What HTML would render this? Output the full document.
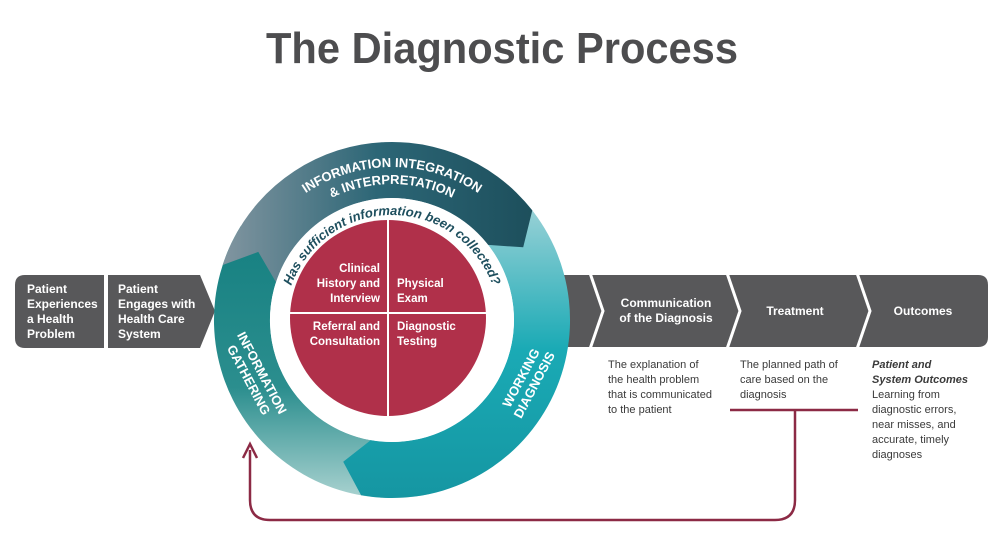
<!DOCTYPE html>
<html><head><meta charset="utf-8"><style>
body{margin:0;background:#fff;}
svg{display:block;font-family:"Liberation Sans",sans-serif;}
</style></head><body>
<svg id="s" width="1001" height="539" viewBox="0 0 1001 539" xmlns="http://www.w3.org/2000/svg">
<defs>
<linearGradient id="gTop" x1="0" y1="0" x2="1" y2="0"><stop offset="0" stop-color="#8195a0"/><stop offset="0.5" stop-color="#2c6676"/><stop offset="1" stop-color="#1d4f5c"/></linearGradient>
<linearGradient id="gWD" x1="0" y1="0" x2="0" y2="1"><stop offset="0" stop-color="#9fd3d8"/><stop offset="0.5" stop-color="#1aaab5"/><stop offset="1" stop-color="#1596a2"/></linearGradient>
<linearGradient id="gIG" x1="0" y1="0" x2="0" y2="1"><stop offset="0" stop-color="#147f80"/><stop offset="0.6" stop-color="#2b8e8e"/><stop offset="1" stop-color="#a9d2d0"/></linearGradient>
<path id="a1" d="M 237 322 A 155 155 0 0 1 547 322" fill="none"/>
<path id="a2" d="M 254 322 A 138 138 0 0 1 530 322" fill="none"/>
<path id="a3" d="M 285 322 A 107 107 0 0 1 499 322" fill="none"/>
</defs>
<text x="502" y="63" text-anchor="middle" font-size="44" font-weight="bold" fill="#4d4d4f" textLength="472" lengthAdjust="spacingAndGlyphs">The Diagnostic Process</text>

<path d="M560 275 H978 Q988 275 988 285 V337 Q988 347 978 347 H560 Z" fill="#58585a"/>
<g stroke="#fff" stroke-width="3" fill="none">
<polyline points="590,273 603,311 590,349"/>
<polyline points="727,273 740,311 727,349"/>
<polyline points="857,273 870,311 857,349"/>
</g>
<path d="M25 275 H104 V348 H25 Q15 348 15 338 V285 Q15 275 25 275 Z" fill="#58585a"/>
<path d="M108 275 H200 L215 311 L200 348 H108 Z" fill="#58585a"/>

<g fill="#fff" font-size="12" font-weight="bold">
<text x="27" y="293">Patient</text><text x="27" y="308">Experiences</text><text x="27" y="323">a Health</text><text x="27" y="338">Problem</text>
<text x="118" y="293">Patient</text><text x="118" y="308">Engages with</text><text x="118" y="323">Health Care</text><text x="118" y="338">System</text>
<text x="666" y="307" text-anchor="middle">Communication</text><text x="666" y="322" text-anchor="middle">of the Diagnosis</text>
<text x="795" y="315" text-anchor="middle">Treatment</text>
<text x="923" y="315" text-anchor="middle">Outcomes</text>
</g>
<g fill="#3a3a3a" font-size="11">
<text x="608" y="368">The explanation of</text><text x="608" y="383">the health problem</text><text x="608" y="398">that is communicated</text><text x="608" y="413">to the patient</text>
<text x="740" y="368">The planned path of</text><text x="740" y="383">care based on the</text><text x="740" y="398">diagnosis</text>
<text x="872" y="368" font-style="italic" font-weight="bold">Patient and</text><text x="872" y="383" font-style="italic" font-weight="bold">System Outcomes</text>
<text x="872" y="398">Learning from</text><text x="872" y="413">diagnostic errors,</text><text x="872" y="428">near misses, and</text><text x="872" y="443">accurate, timely</text><text x="872" y="458">diagnoses</text>
</g>
<path d="M730 410 H858 M795 410 V500 Q795 520 775 520 H270 Q250 520 250 500 V450" fill="none" stroke="#8c2a45" stroke-width="2.5"/>
<path d="M243 458 L250 444 L257 458" fill="none" stroke="#8c2a45" stroke-width="2.5"/>

<g id="ring"></g>
<circle cx="392" cy="320" r="122" fill="#fff"/>
<circle cx="388" cy="318" r="98" fill="#b0304a"/>
<line x1="388" y1="220" x2="388" y2="416" stroke="#fff" stroke-width="2"/>
<line x1="290" y1="313" x2="486" y2="313" stroke="#fff" stroke-width="2"/>
<g fill="#fff" font-size="11.5" font-weight="bold">
<text x="380" y="272" text-anchor="end">Clinical</text><text x="380" y="287" text-anchor="end">History and</text><text x="380" y="302" text-anchor="end">Interview</text>
<text x="397" y="287">Physical</text><text x="397" y="302">Exam</text>
<text x="380" y="330" text-anchor="end">Referral and</text><text x="380" y="345" text-anchor="end">Consultation</text>
<text x="397" y="330">Diagnostic</text><text x="397" y="345">Testing</text>
</g>
<text font-size="13" font-weight="bold" fill="#1e4f5e" font-style="italic"><textPath href="#a3" startOffset="50%" text-anchor="middle">Has sufficient information been collected?</textPath></text>
<g fill="#fff" font-size="13" font-weight="bold">
<text><textPath href="#a1" startOffset="50%" text-anchor="middle">INFORMATION INTEGRATION</textPath></text>
<text><textPath href="#a2" startOffset="50%" text-anchor="middle">&amp; INTERPRETATION</textPath></text>
<text transform="translate(258,375) rotate(62)" text-anchor="middle"><tspan x="0" y="0">INFORMATION</tspan><tspan x="0" y="15">GATHERING</tspan></text>
<text transform="translate(525,380) rotate(-62)" text-anchor="middle"><tspan x="0" y="0">WORKING</tspan><tspan x="0" y="15">DIAGNOSIS</tspan></text>
</g>
</svg>
<script>
(function(){
var cx=392,cy=320,R=178,r=122,m=(R+r)/2,NS="http://www.w3.org/2000/svg";
function p(rad,a){a=a*Math.PI/180;return (cx+rad*Math.cos(a)).toFixed(1)+" "+(cy+rad*Math.sin(a)).toFixed(1);}
function seg(a0,a1,fill){
 var large=(a1-a0)>180?1:0;
 var d="M "+p(R,a0)+" A "+R+" "+R+" 0 "+large+" 1 "+p(R,a1)+" L "+p(m,a1+9)+" L "+p(r,a1)+" A "+r+" "+r+" 0 "+large+" 0 "+p(r,a0)+" L "+p(m,a0+9)+" Z";
 var e=document.createElementNS(NS,"path");e.setAttribute("d",d);e.setAttribute("fill",fill);
 document.getElementById("ring").appendChild(e);}
seg(78,212,"url(#gIG)");
seg(-42,100,"url(#gWD)");
seg(198,322,"url(#gTop)");
})();
</script>
</body></html>
